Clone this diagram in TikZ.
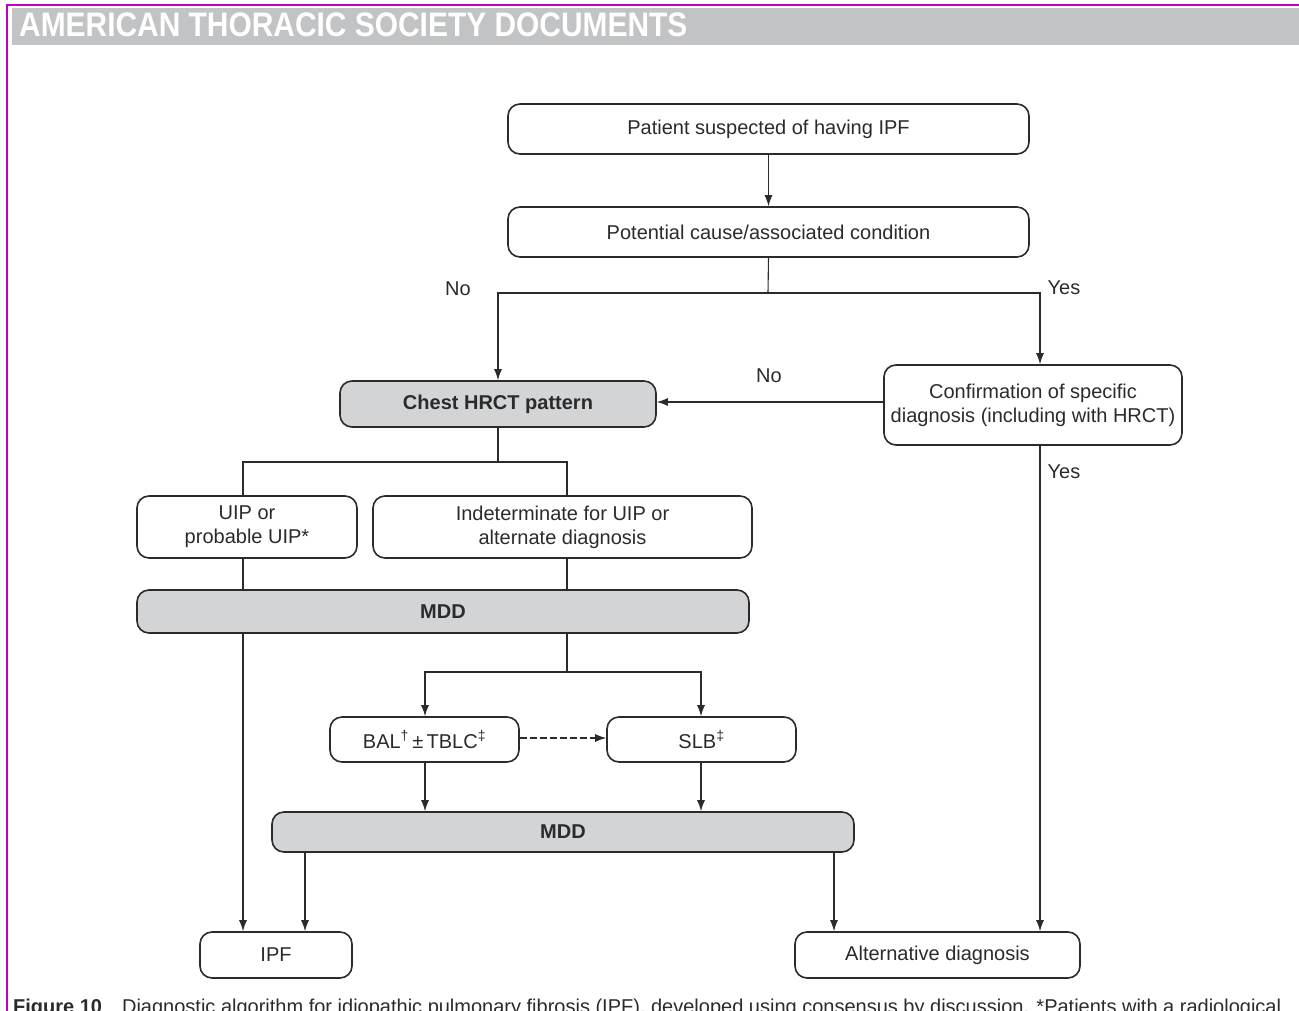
\documentclass[tikz,border=0pt]{standalone}
\usepackage{fontspec}
\setmainfont{Liberation Sans}
\usetikzlibrary{arrows.meta,calc}
\definecolor{frame}{HTML}{C000C0}
\definecolor{hdr}{HTML}{C2C3C5}
\definecolor{boxfill}{HTML}{D3D4D6}
\definecolor{ink}{HTML}{2B2B2B}
\tikzset{
  box/.style={draw=ink, line width=1.6pt, rounded corners=12pt, align=center, inner sep=0pt, font=\fontsize{20}{24}\selectfont, text=ink},
  graybox/.style={box, fill=boxfill, font=\fontsize{20}{24}\selectfont\bfseries},
  conn/.style={draw=ink, line width=1.1pt},
  arr/.style={conn, -{Latex[length=11pt,width=8pt]}},
  lbl/.style={font=\fontsize{20}{24}\selectfont, text=ink, inner sep=0pt}
}
\begin{document}
\begin{tikzpicture}[x=1pt,y=-1pt]
\useasboundingbox (0,0) rectangle (1299,1010);
\fill[white] (0,0) rectangle (1299,1010);
% frame and header
\draw[frame, line width=2pt] (7,1012) -- (7,5) -- (1300,5);
\fill[hdr] (12,8) rectangle (1299,45);
\node[anchor=west, inner sep=0pt, text=white, font=\fontsize{34}{36}\selectfont\bfseries] (hdrtext) at (19,25) {\scalebox{0.88}[1]{AMERICAN THORACIC SOCIETY DOCUMENTS}};
% nodes
\node[box, minimum width=521pt, minimum height=50pt] (pat) at (768.5,129) {Patient suspected of having IPF};
\node[box, minimum width=521pt, minimum height=50pt] (pot) at (768.5,232) {Potential cause/associated condition};
\node[graybox, minimum width=316pt, minimum height=46pt] (chest) at (498,404) {Chest HRCT pattern};
\node[box, minimum width=298pt, minimum height=80pt] (conf) at (1033,405) {Confirmation of specific\\diagnosis (including with HRCT)};
\node[box, minimum width=220pt, minimum height=62pt] (uip) at (247,527) {UIP or\\probable UIP*};
\node[box, minimum width=379pt, minimum height=62pt] (ind) at (562.5,527) {Indeterminate for UIP or\\alternate diagnosis};
\node[graybox, minimum width=612pt, minimum height=43pt] (mdda) at (443,611.5) {MDD};
\node[box, minimum width=189pt, minimum height=45pt] (bal) at (424.5,739.5) {BAL\textsuperscript{†}\,±\,TBLC\textsuperscript{‡}};
\node[box, minimum width=189pt, minimum height=45pt] (slb) at (701.5,739.5) {SLB\textsuperscript{‡}};
\node[graybox, minimum width=582pt, minimum height=40pt] (mddb) at (563,832) {MDD};
\node[box, minimum width=152pt, minimum height=46pt] (ipf) at (276,955) {IPF};
\node[box, minimum width=285pt, minimum height=46pt] (alt) at (937.5,955) {Alternative diagnosis};
% coordinates
\coordinate (j1) at (768,293);
\coordinate (yescol) at (1040,0);
\coordinate (j2) at (498,462);
\coordinate (ucol) at (243,0);
\coordinate (icol) at (567,0);
\coordinate (j3) at (567,672);
\coordinate (bcol) at (425,0);
\coordinate (scol) at (701,0);
\coordinate (pcol) at (305,0);
\coordinate (acol) at (834,0);
% connectors
\draw[arr] (pat) -- (pot);
\draw[conn] (pot.south) -- (j1);
\draw[arr] (j1) -| (chest.north);
\draw[arr] (j1) -| (conf.north -| yescol);
\draw[arr] (conf.west |- 0,402) -- (chest.east |- 0,402);
\draw[arr] (conf.south -| yescol) -- (alt.north -| yescol);
\draw[conn] (chest.south) -- (j2);
\draw[conn] (j2) -| (uip.north -| ucol);
\draw[conn] (j2) -| (ind.north -| icol);
\draw[conn] (uip.south -| ucol) -- (mdda.north -| ucol);
\draw[conn] (ind.south -| icol) -- (mdda.north -| icol);
\draw[arr] (mdda.south -| ucol) -- (ipf.north -| ucol);
\draw[conn] (mdda.south -| icol) -- (j3);
\draw[arr] (j3) -| (bal.north -| bcol);
\draw[arr] (j3) -| (slb.north -| scol);
\draw[arr, dash pattern=on 7pt off 3pt] (bal.east |- 0,738) -- (slb.west |- 0,738);
\draw[arr] (bal.south -| bcol) -- (mddb.north -| bcol);
\draw[arr] (slb.south -| scol) -- (mddb.north -| scol);
\draw[arr] (mddb.south -| pcol) -- (ipf.north -| pcol);
\draw[arr] (mddb.south -| acol) -- (alt.north -| acol);
% labels
\node[lbl] (no1) at (458,289) {No};
\node[lbl] (yes1) at (1064,288) {Yes};
\node[lbl] (no2) at (769,376) {No};
\node[lbl] (yes2) at (1064,472) {Yes};
% caption (cut off by page edge, as in the reference)
\node[anchor=base west, inner sep=0pt, text=ink, font=\fontsize{20}{22}\selectfont] (cap) at (13,1013) {\scalebox{1.0}[1]{\textbf{Figure 10}\quad Diagnostic algorithm for idiopathic pulmonary fibrosis (IPF), developed using consensus by discussion. *Patients with a radiological}};
\end{tikzpicture}
\end{document}
